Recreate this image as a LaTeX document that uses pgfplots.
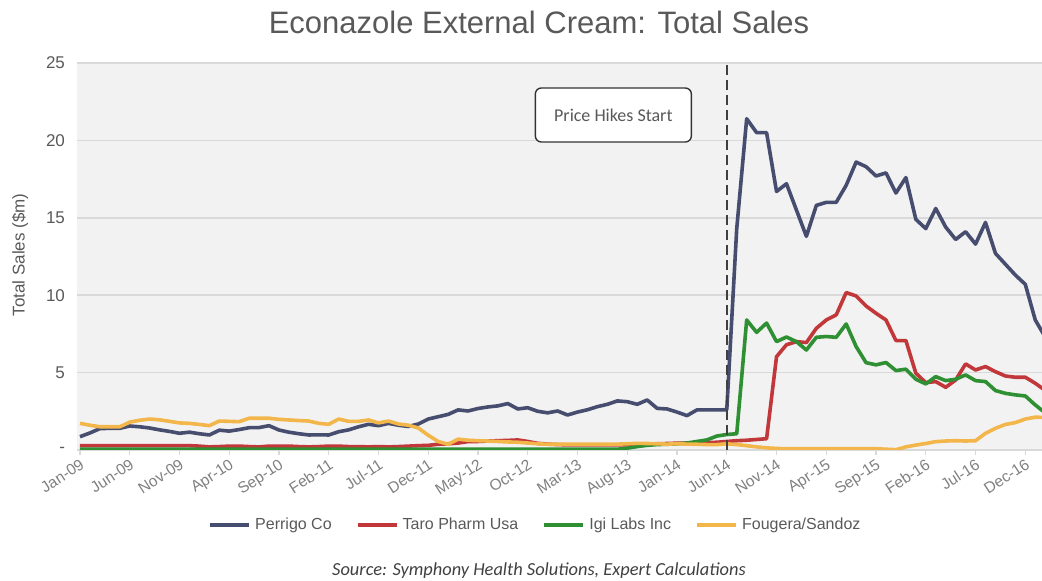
\documentclass[border=0pt]{standalone}
\usepackage{fontspec}
\setmainfont{Liberation Sans}
\newfontfamily\calibri{Carlito}
\usepackage{pgfplots}
\usepackage{pgfplotstable}
\pgfplotsset{compat=1.18}

\definecolor{perrigo}{HTML}{474D6E}
\definecolor{taro}{HTML}{C1373A}
\definecolor{igi}{HTML}{2F8F33}
\definecolor{fougera}{HTML}{F3B64A}
\definecolor{plotbg}{HTML}{F2F2F2}
\definecolor{gridc}{HTML}{D9D9D9}
\definecolor{labc}{HTML}{595959}
\definecolor{xlabc}{HTML}{808080}

% monthly sales in $m, m = months since Jan-09
\pgfplotstableread{
m perrigo taro igi fougera
0 0.86 0.28 0.05 1.72
1 1.10 0.28 0.05 1.60
2 1.38 0.28 0.05 1.50
3 1.40 0.28 0.05 1.50
4 1.40 0.28 0.05 1.50
5 1.55 0.28 0.05 1.80
6 1.50 0.28 0.05 1.92
7 1.42 0.28 0.05 2.00
8 1.30 0.28 0.05 1.95
9 1.20 0.28 0.05 1.85
10 1.08 0.28 0.05 1.75
11 1.15 0.28 0.05 1.72
12 1.05 0.25 0.05 1.65
13 0.97 0.20 0.05 1.57
14 1.28 0.22 0.05 1.87
15 1.22 0.25 0.05 1.85
16 1.32 0.25 0.05 1.83
17 1.44 0.22 0.05 2.05
18 1.45 0.20 0.05 2.05
19 1.57 0.25 0.05 2.05
20 1.29 0.25 0.05 1.98
21 1.15 0.25 0.05 1.94
22 1.05 0.22 0.05 1.90
23 0.97 0.20 0.05 1.87
24 0.98 0.22 0.05 1.72
25 0.97 0.25 0.05 1.66
26 1.18 0.25 0.05 2.00
27 1.30 0.22 0.05 1.85
28 1.50 0.22 0.05 1.85
29 1.66 0.20 0.05 1.94
30 1.57 0.22 0.05 1.75
31 1.72 0.20 0.05 1.87
32 1.60 0.22 0.05 1.68
33 1.52 0.25 0.05 1.60
34 1.68 0.28 0.05 1.42
35 2.00 0.30 0.05 0.95
36 2.15 0.37 0.05 0.55
37 2.30 0.40 0.05 0.37
38 2.59 0.45 0.05 0.70
39 2.52 0.54 0.05 0.63
40 2.68 0.55 0.05 0.60
41 2.78 0.58 0.05 0.58
42 2.85 0.60 0.05 0.55
43 3.00 0.62 0.05 0.52
44 2.65 0.65 0.05 0.50
45 2.73 0.55 0.05 0.45
46 2.50 0.43 0.05 0.40
47 2.40 0.38 0.05 0.37
48 2.52 0.35 0.05 0.37
49 2.26 0.33 0.05 0.37
50 2.45 0.33 0.05 0.37
51 2.60 0.33 0.05 0.37
52 2.80 0.33 0.05 0.37
53 2.95 0.33 0.05 0.37
54 3.17 0.33 0.05 0.38
55 3.12 0.33 0.12 0.40
56 2.95 0.35 0.22 0.43
57 3.23 0.38 0.30 0.42
58 2.69 0.40 0.35 0.40
59 2.65 0.42 0.37 0.38
60 2.45 0.44 0.40 0.40
61 2.22 0.45 0.45 0.38
62 2.59 0.47 0.55 0.37
63 2.59 0.48 0.65 0.35
64 2.59 0.50 0.90 0.35
65 2.60 0.55 1.00 0.40
66 14.3 0.60 1.05 0.35
67 21.4 0.63 8.40 0.28
68 20.5 0.68 7.60 0.20
69 20.5 0.73 8.20 0.14
70 16.7 6.03 7.00 0.10
71 17.2 6.80 7.30 0.08
72 15.5 7.00 7.00 0.08
73 13.8 6.94 6.46 0.08
74 15.8 7.86 7.28 0.08
75 16.0 8.40 7.33 0.08
76 16.0 8.73 7.28 0.08
77 17.1 10.17 8.14 0.08
78 18.6 9.95 6.68 0.08
79 18.3 9.30 5.64 0.08
80 17.7 8.83 5.50 0.08
81 17.9 8.40 5.65 0.05
82 16.6 7.07 5.13 0.02
83 17.6 7.07 5.22 0.20
84 14.9 4.96 4.57 0.32
85 14.3 4.35 4.27 0.42
86 15.6 4.42 4.74 0.54
87 14.4 4.05 4.48 0.58
88 13.6 4.52 4.57 0.60
89 14.1 5.56 4.85 0.58
90 13.3 5.17 4.48 0.60
91 14.7 5.39 4.42 1.08
92 12.7 5.06 3.84 1.40
93 12.0 4.78 3.66 1.65
94 11.3 4.70 3.56 1.77
95 10.7 4.70 3.49 2.00
96 8.4 4.31 2.91 2.12
97 7.3 3.85 2.40 2.10
}\sales

\begin{document}
\begin{tikzpicture}
\path[use as bounding box] (-38.5pt,-65.5pt) rectangle (482.5pt,225pt);
\begin{axis}[
    at={(0pt,0pt)}, anchor=south west,
    scale only axis, width=482.5pt, height=193.5pt,
    xmin=-0.3, xmax=96.68, ymin=0, ymax=25,
    axis background/.style={fill=plotbg},
    axis lines*=left,
    axis line style={-},
    x axis line style={draw=gridc, line width=0.8pt},
    y axis line style={draw=none},
    ymajorgrids, grid style={gridc, line width=0.8pt},
    xtick={0,5,...,95},
    xticklabels={Jan-09,Jun-09,Nov-09,Apr-10,Sep-10,Feb-11,Jul-11,Dec-11,May-12,Oct-12,
                 Mar-13,Aug-13,Jan-14,Jun-14,Nov-14,Apr-15,Sep-15,Feb-16,Jul-16,Dec-16},
    ytick={0,5,...,25},
    yticklabels={-\hspace{5pt},5,10,15,20,25},
    tick align=outside,
    major tick length=2.5pt,
    xtick style={draw=gridc, line width=0.6pt},
    ytick style={draw=none},
    xticklabel style={rotate=33, anchor=north east, font=\fontsize{7.8}{9}\selectfont, text=xlabc, inner sep=1pt},
    yticklabel style={font=\fontsize{8.5}{10}\selectfont, text=labc},
    /pgf/number format/assume math mode=true,
    legend columns=4,
    legend style={at={(0.476,-0.194)}, anchor=center, draw=none, fill=none,
        font=\fontsize{8}{9}\selectfont, text=labc,
        /tikz/every even column/.append style={column sep=10pt}},
    legend image code/.code={\draw[#1, line width=2pt] (0pt,0pt) -- (19.5pt,0pt);},
    every axis plot/.append style={line width=1.8pt, line join=round},
]
\addplot[perrigo] table[x=m, y=perrigo] {\sales};
\addlegendentry{Perrigo Co}
\addplot[taro] table[x=m, y=taro] {\sales};
\addlegendentry{Taro Pharm Usa}
\addplot[igi] table[x=m, y=igi] {\sales};
\addlegendentry{Igi Labs Inc}
\addplot[fougera] table[x=m, y=fougera] {\sales};
\addlegendentry{Fougera/Sandoz}
\addplot[forget plot, draw=black!75, line width=1pt, dash pattern=on 5pt off 2.5pt] coordinates {(65,0) (65,25)};
\node[draw=black!80, line width=0.7pt, fill=white, rounded corners=3pt, minimum width=78pt, minimum height=27pt,
      font=\calibri\fontsize{9}{11}\selectfont, text=labc] at (axis cs:53.6,21.64) {Price Hikes Start};
\end{axis}
\node[font=\fontsize{15.5}{18}\selectfont, text=labc, anchor=base] at (231pt,208pt) {Econazole External Cream: Total Sales};
\node[font=\fontsize{8.5}{10}\selectfont, text=labc, rotate=90] at (-28.5pt,97.5pt) {Total Sales (\$m)};
\node[font=\calibri\itshape\fontsize{9.2}{11}\selectfont, text=black!75, anchor=base] at (231pt,-63pt) {Source: Symphony Health Solutions, Expert Calculations};
\end{tikzpicture}
\end{document}
